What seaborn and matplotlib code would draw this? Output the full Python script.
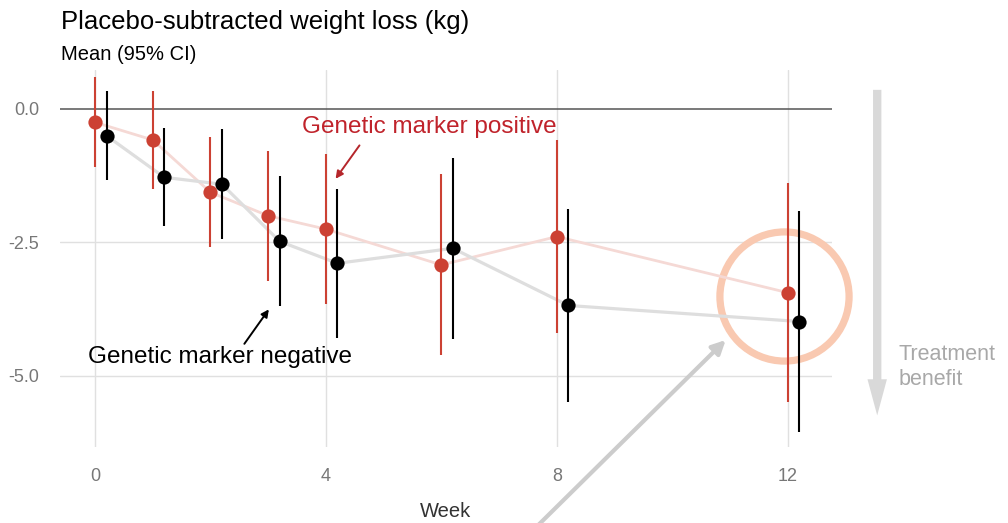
import matplotlib
matplotlib.use("Agg")
import matplotlib.pyplot as plt
import seaborn as sns

# data
weeks = [0, 1, 2, 3, 4, 6, 8, 12]
pos_mean = [-0.25, -0.58, -1.56, -2.00, -2.25, -2.92, -2.39, -3.44]
pos_lo = [-1.09, -1.49, -2.59, -3.22, -3.65, -4.61, -4.20, -5.48]
pos_hi = [0.59, 0.34, -0.53, -0.79, -0.85, -1.22, -0.59, -1.39]
neg_mean = [-0.50, -1.28, -1.41, -2.48, -2.89, -2.61, -3.68, -3.98]
neg_lo = [-1.33, -2.19, -2.44, -3.69, -4.29, -4.31, -5.48, -6.04]
neg_hi = [0.34, -0.36, -0.37, -1.25, -1.49, -0.91, -1.87, -1.92]
x_ticks = [0, 4, 8, 12]
y_ticks = [0.0, -2.5, -5.0]
dodge = 0.2

RED = "#cc4133"
RED_TXT = "#c0232b"

sns.set_theme(style="white")
plt.rcParams["font.family"] = ["Liberation Sans", "DejaVu Sans"]

fig = plt.figure(figsize=(10.08, 5.23), dpi=100)
ax = fig.add_axes([0.0595, 0.1453, 0.7655, 0.7209])

neg_x = [w + dodge for w in weeks]

# grid + zero reference
for w in x_ticks:
    ax.axvline(w, color="#e0e0e0", lw=1, zorder=0)
for v in y_ticks[1:]:
    ax.axhline(v, color="#e0e0e0", lw=1, zorder=0)
ax.axhline(0, color="#555555", lw=1.1, zorder=0.5)

# highlight ring around week 12
ax.plot(11.94, -3.51, marker="o", ms=93, mfc="none", mec="#f9c9b1",
        mew=5.2, zorder=1, clip_on=False)

# connecting lines
sns.lineplot(x=weeks, y=pos_mean, ax=ax, color="#f5d9d5", lw=2, sort=False,
             zorder=1.5)
sns.lineplot(x=neg_x, y=neg_mean, ax=ax, color="#dedede", lw=2.3, sort=False,
             zorder=1.5)

# 95% CI bars
ax.vlines(weeks, pos_lo, pos_hi, color=RED, lw=1.5, zorder=2)
ax.vlines(neg_x, neg_lo, neg_hi, color="black", lw=1.5, zorder=2)

# means
sns.scatterplot(x=weeks, y=pos_mean, ax=ax, color=RED, s=105, linewidth=0,
                zorder=3)
sns.scatterplot(x=neg_x, y=neg_mean, ax=ax, color="black", s=105, linewidth=0,
                zorder=3)

ax.set_xlim(-0.606, 12.76)
ax.set_ylim(-6.33, 0.73)
ax.set_xticks(x_ticks)
ax.set_xticklabels([str(t) for t in x_ticks])
ax.set_yticks(y_ticks)
ax.set_yticklabels([f"{t:.1f}" for t in y_ticks])
ax.tick_params(axis="both", length=0, labelsize=13, labelcolor="#777777")
ax.tick_params(axis="x", pad=15)
ax.tick_params(axis="y", pad=15)
ax.set_xlabel("Week", fontsize=14.5, color="#333333", labelpad=12)
ax.set_ylabel("")
for s in ax.spines.values():
    s.set_visible(False)

# labels for the two groups
ax.text(5.8, -0.34, "Genetic marker positive", color=RED_TXT, fontsize=17.5,
        ha="center", va="center")
ax.annotate("", xy=(4.14, -1.35), xytext=(4.61, -0.64),
            arrowprops=dict(arrowstyle="-|>", color="#b5262b", lw=1.4,
                            mutation_scale=11))
ax.text(2.16, -4.64, "Genetic marker negative", color="black", fontsize=17.5,
        ha="center", va="center")
ax.annotate("", xy=(3.04, -3.71), xytext=(2.56, -4.44),
            arrowprops=dict(arrowstyle="-|>", color="black", lw=1.4,
                            mutation_scale=11))

# big grey pointer from below
ax.annotate("", xy=(10.96, -4.29), xytext=(7.53, -7.95),
            annotation_clip=False,
            arrowprops=dict(arrowstyle="-|>", color="#cccccc", lw=3,
                            mutation_scale=20))

# treatment benefit arrow
ax.annotate("", xy=(13.55, -5.79), xytext=(13.55, 0.41),
            annotation_clip=False,
            arrowprops=dict(arrowstyle="simple,head_length=2.6,head_width=1.4,tail_width=0.6",
                            color="#d9d9d9", lw=0, mutation_scale=10))
ax.text(13.92, -4.83, "Treatment\nbenefit", color="#a8a8a8", fontsize=15.5,
        ha="left", va="center", linespacing=1.25, clip_on=False)

fig.text(61 / 1008, 1 - 22 / 523, "Placebo-subtracted weight loss (kg)",
         fontsize=18.5, color="black", ha="left", va="center")
fig.text(61 / 1008, 1 - 54 / 523, "Mean (95% CI)", fontsize=14.5,
         color="black", ha="left", va="center")

fig.savefig("out.png", dpi=100, facecolor="white")
